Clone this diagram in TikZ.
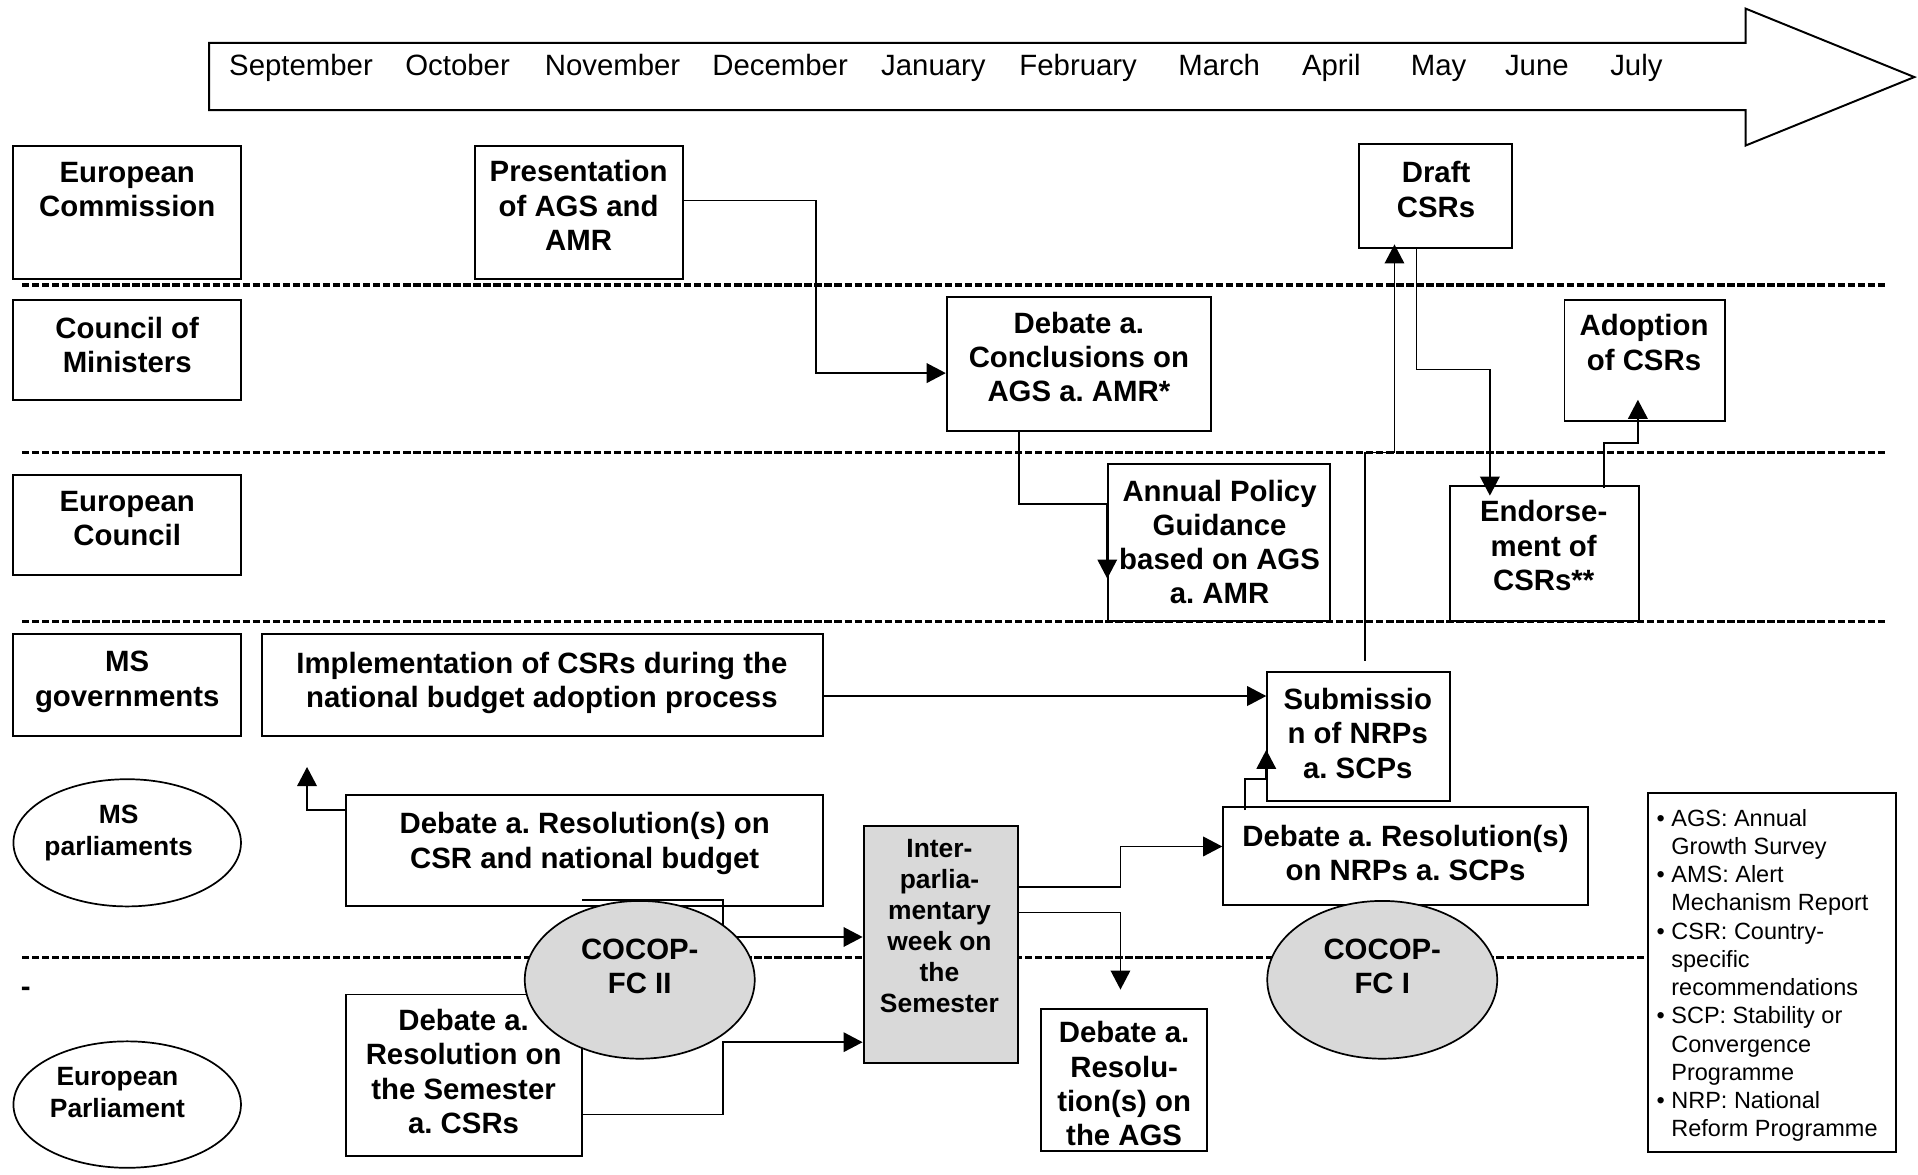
\documentclass[tikz,border=0pt]{standalone}
\usepackage{fontspec}
\setmainfont{Liberation Sans}
\usetikzlibrary{arrows.meta,fit,calc,shapes.geometric}
\definecolor{boxgray}{HTML}{D9D9D9}
\frenchspacing
\begin{document}
\frenchspacing
\begin{tikzpicture}[x=0.5pt,y=-0.5pt,
  box/.style={draw, rectangle, line width=0.8pt, fill=white, inner sep=0pt},
  graybox/.style={box, fill=boxgray},
  oval/.style={draw, ellipse, line width=0.7pt, fill=white, inner sep=0pt},
  grayoval/.style={oval, fill=boxgray},
  lbl/.style={font=\bfseries\fontsize{12}{14}\selectfont, align=center, inner sep=0pt},
  slbl/.style={font=\bfseries\fontsize{10.8}{13}\selectfont, align=center, inner sep=0pt},
  ilbl/.style={font=\bfseries\fontsize{10.8}{12.6}\selectfont, align=center, inner sep=0pt},
  month/.style={font=\fontsize{12}{14}\selectfont, anchor=base west, inner sep=0pt},
  legtext/.style={font=\fontsize{9.6}{11.55}\selectfont, align=left, inner sep=0pt, anchor=north west},
  conn/.style={line width=0.7pt},
  arr/.style={conn, -{Triangle[length=7.8pt,width=8pt]}},
  lane/.style={line width=1.3pt, dash pattern=on 3pt off 1.1pt}
]
\useasboundingbox (0,0) rectangle (1568,960);

% timeline arrow
\draw[line width=0.8pt, line join=miter] (171,35) -- (1427,35) -- (1427,7) -- (1565,63) -- (1427,119) -- (1427,90) -- (171,90) -- cycle;
\node[month] (m1) at (187,62) {September};
\node[month] (m2) at (331,62) {October};
\node[month] (m3) at (445,62) {November};
\node[month] (m4) at (582,62) {December};
\node[month] (m5) at (720,62) {January};
\node[month] (m6) at (833,62) {February};
\node[month] (m7) at (963,62) {March};
\node[month] (m8) at (1064,62) {April};
\node[month] (m9) at (1153,62) {May};
\node[month] (m10) at (1230,62) {June};
\node[month] (m11) at (1316,62) {July};

% lane separators
\draw[lane] (18,233) -- (1543,233);
\draw[lane] (18,370) -- (1543,370);
\draw[lane] (18,508) -- (1543,508);
\draw[lane] (18,783) -- (1543,783);
\node[lbl] (dash) at (21,811) {-};

% actor column
\node[box, fit={(11,119) (197,228)}] (ec) {};
\node[box, fit={(11,245) (197,327)}] (com) {};
\node[box, fit={(11,388) (197,470)}] (ecl) {};
\node[box, fit={(11,518) (197,602)}] (msg) {};
\node[oval, minimum width=93pt, minimum height=52pt] (msp) at (104,689) {};
\node[oval, minimum width=93pt, minimum height=51.7pt] (ep) at (104,903) {};

% process boxes
\node[box, fit={(388,119) (558,228)}] (pres) {};
\node[box, fit={(1111,118) (1236,203)}] (draft) {};
\node[box, fit={(774,243) (990,352)}] (dconc) {};
\node[box, fit={(1279,245) (1410,344)}] (adopt) {};
\node[box, fit={(906,379) (1087,508)}] (apg) {};
\node[box, fit={(1185,397) (1340,508)}] (endo) {};
\node[box, fit={(214,518) (673,602)}] (impl) {};
\node[box, fit={(1036,549) (1185,655)}] (subm) {};
\node[box, fit={(283,650) (673,741)}] (dcsr) {};
\node[box, fit={(1000,660) (1298,740)}] (dnrp) {};
\node[graybox, fit={(706,675) (832,869)}] (ipw) {};
\node[box, fit={(283,813) (476,945)}] (dsem) {};
\node[box, fit={(851,825) (987,941)}] (dags) {};

% free ends
\coordinate (implarrow) at (251,627);
\coordinate (agsarrow) at (916,809);
\coordinate (c8s) at (476,736);

% connectors
\draw[arr] (pres.east |- 0,164) -| (667,305) -- (dconc.west |- 0,305);
\draw[arr] (dconc.south -| 833,0) |- (apg.west |- 0,412) -- (apg.west |- 0,473);
\draw[arr] (draft.south -| 1158,0) |- (1218,302) -- ($(endo.north -| 1218,0)+(0,9)$);
\draw[arr] ($(endo.north -| 1311,0)+(0,3)$) |- (1339,362) -- ($(adopt.south -| 1339,0)+(0,-18)$);
\draw[arr] (impl.east |- 0,569) -- (subm.west |- 0,569);
\draw[arr] ($(subm.north -| 1116,0)+(0,-8)$) |- (1140,370) -- ($(draft.south -| 1140,0)+(0,-4)$);
\draw[arr] (dcsr.west |- 0,662) -| (implarrow);
\draw[arr] (c8s) -| (591,766) -- (ipw.west |- 0,766);
\draw[arr] (dsem.east |- 0,911) -| (591,852) -- (ipw.west |- 0,852);
\draw[arr] (ipw.east |- 0,725) -| (916,692) -- (dnrp.west |- 0,692);
\draw[arr] (ipw.east |- 0,746) -| (agsarrow);
\draw[arr] ($(dnrp.north -| 1018,0)+(0,3)$) |- (subm.west |- 0,637) -- (subm.west |- 0,613);

% COCOP ellipses (on top)
\node[grayoval, minimum width=94pt, minimum height=64.5pt] (cocop2) at (523,801) {};
\node[grayoval, minimum width=94pt, minimum height=64.5pt] (cocop1) at (1130,801) {};

% legend
\node[box, fit={(1347,648) (1550,942)}] (legend) {};
\node[legtext] (legtxt) at (1354,661) {%
\makebox[6pt][l]{\textbullet}AGS: Annual\\
\hspace*{6pt}Growth Survey\\
\makebox[6pt][l]{\textbullet}AMS: Alert\\
\hspace*{6pt}Mechanism Report\\
\makebox[6pt][l]{\textbullet}CSR: Country-\\
\hspace*{6pt}specific\\
\hspace*{6pt}recommendations\\
\makebox[6pt][l]{\textbullet}SCP: Stability or\\
\hspace*{6pt}Convergence\\
\hspace*{6pt}Programme\\
\makebox[6pt][l]{\textbullet}NRP: National\\
\hspace*{6pt}Reform Programme};

% labels
\node[lbl] (ec-t) at (104,155) {European\\Commission};
\node[lbl] (com-t) at (104,282) {Council of\\Ministers};
\node[lbl] (ecl-t) at (104,424) {European\\Council};
\node[lbl] (msg-t) at (104,557.5) {MS\\governments};
\node[slbl] (msp-t) at (97,681) {MS\\parliaments};
\node[slbl] (ep-t) at (96,893) {European\\Parliament};
\node[lbl] (pres-t) at (473,168) {Presentation\\of AGS and\\AMR};
\node[lbl] (draft-t) at (1174,155) {Draft\\CSRs};
\node[lbl] (dconc-t) at (882,292) {Debate a.\\Conclusions on\\AGS a. AMR*};
\node[lbl] (adopt-t) at (1344,280) {Adoption\\of CSRs};
\node[lbl] (apg-t) at (997,443) {Annual Policy\\Guidance\\based on AGS\\a. AMR};
\node[lbl] (endo-t) at (1262,446) {Endorse-\\ment of\\CSRs**};
\node[lbl] (impl-t) at (443,558.5) {Implementation of CSRs during the\\national budget adoption process};
\node[lbl] (subm-t) at (1110,599.5) {Submissio\\n of NRPs\\a. SCPs};
\node[lbl] (dcsr-t) at (478,689.5) {Debate a. Resolution(s) on\\CSR and national budget};
\node[lbl] (dnrp-t) at (1149,697.5) {Debate a. Resolution(s)\\on NRPs a. SCPs};
\node[ilbl] (ipw-t) at (768,757) {Inter-\\parlia-\\mentary\\week on\\the\\Semester};
\node[lbl] (cocop2-t) at (523,790) {COCOP-\\FC II};
\node[lbl] (cocop1-t) at (1130,790) {COCOP-\\FC I};
\node[lbl] (dsem-t) at (379,876) {Debate a.\\Resolution on\\the Semester\\a. CSRs};
\node[lbl] (dags-t) at (919,886) {Debate a.\\Resolu-\\tion(s) on\\the AGS};
\end{tikzpicture}
\end{document}
